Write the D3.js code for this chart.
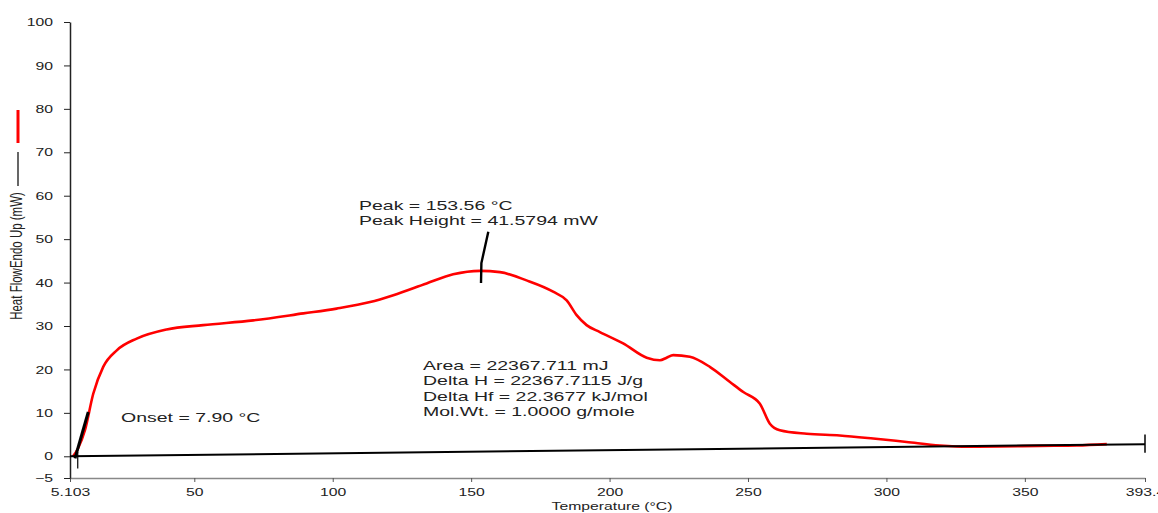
<!DOCTYPE html>
<html>
<head>
<meta charset="utf-8">
<script src="https://cdn.jsdelivr.net/npm/d3@7"></script>
<style>
  body { margin: 0; background: #fff; }
  svg { display: block; }
  text { font-family: "Liberation Sans", Arial, sans-serif; fill: #222; }
</style>
</head>
<body>
<svg id="chart"></svg>
<script>
var width = 1158, height = 513;
var margin = {top: 22, right: 13, bottom: 35, left: 70};
var stretch = 1.5; // the original picture is stretched sideways

// red curve: temperature (°C) and heat flow (mW)
var temps = [6.2, 8.0, 10.5, 13.5, 17.1, 22.0, 29.2, 40.0, 53.2, 71.3, 89.4, 101.4, 113.5,
  121.9, 133.9, 143.5, 153.2, 160.4, 170.0, 179.6, 184.5, 188.1, 191.7, 196.5, 204.9,
  213.4, 218.2, 220.6, 223.0, 229.0, 236.2, 243.5, 248.3, 254.3, 257.9, 261.5, 271.2,
  283.1, 295.2, 307.3, 319.3, 329.4, 340.9, 355.4, 368.8, 379.6];
var heatFlow = [0.0, 1.8, 6.0, 14.4, 20.6, 24.4, 27.1, 29.2, 30.2, 31.3, 32.9, 34.0, 35.5,
  37.1, 39.8, 41.9, 42.7, 42.4, 40.5, 37.9, 35.9, 32.5, 30.2, 28.6, 26.0,
  22.7, 22.1, 22.7, 23.3, 22.9, 20.6, 17.1, 14.8, 12.1, 7.5, 6.0, 5.2,
  4.8, 4.1, 3.3, 2.5, 2.2, 2.25, 2.4, 2.5, 2.8];

// black baseline
var baseT = [5.103, 393.4];
var baseV = [0.0, 2.8];

// onset tangent and peak marker
var onsetT = [6.9, 11.7];
var onsetV = [-0.5, 10.2];
var onsetTemp = 7.90;
var peakT = [153.56, 153.7, 156.2];
var peakV = [39.9, 44.5, 51.7];

var xTicks = [5.103, 50, 100, 150, 200, 250, 300, 350, 393.4];
var xTickLabels = ["5.103", "50", "100", "150", "200", "250", "300", "350", "393.4"];
var yTicks = [100, 90, 80, 70, 60, 50, 40, 30, 20, 10, 0, -5];

var peakText = ["Peak = 153.56 °C", "Peak Height = 41.5794 mW"];
var areaText = ["Area = 22367.711 mJ", "Delta H = 22367.7115 J/g",
  "Delta Hf = 22.3677 kJ/mol", "Mol.Wt. = 1.0000 g/mole"];
var onsetText = "Onset = 7.90 °C";

var svg = d3.select("#chart").attr("width", width).attr("height", height);

var x = d3.scaleLinear().domain([5.103, 393.4]).range([margin.left, 1145]);
var y = d3.scaleLinear().domain([-5, 100]).range([478, margin.top]);

// x axis
var xAxis = svg.append("g")
  .attr("transform", "translate(0,478)")
  .call(d3.axisBottom(x).tickValues(xTicks)
    .tickFormat(function(d, i) { return xTickLabels[i]; })
    .tickSize(4).tickSizeOuter(0));
xAxis.select(".domain").attr("stroke", "#888").attr("stroke-width", 1.5);
xAxis.selectAll(".tick line").attr("stroke", "#555");
xAxis.selectAll(".tick text")
  .attr("y", 0).attr("dy", 0)
  .attr("transform", "translate(0,18) scale(" + stretch + ",1)")
  .style("font-size", "10.5px").style("font-family", "Liberation Sans, Arial");

// y axis
var yAxis = svg.append("g")
  .attr("transform", "translate(" + margin.left + ",0)")
  .call(d3.axisLeft(y).tickValues(yTicks).tickSize(6).tickSizeOuter(0));
yAxis.select(".domain").attr("stroke", "#222").attr("stroke-width", 1.5);
yAxis.selectAll(".tick line").attr("stroke", "#222");
yAxis.selectAll(".tick text")
  .attr("x", 0).attr("dy", "0.35em")
  .attr("transform", "translate(-17,0) scale(" + stretch + ",1)")
  .style("font-size", "10.5px").style("font-family", "Liberation Sans, Arial");

// axis titles
svg.append("text")
  .attr("transform", "translate(612,510) scale(" + stretch + ",1)")
  .attr("text-anchor", "middle")
  .style("font-size", "10.5px")
  .text("Temperature (°C)");

svg.append("text")
  .attr("transform", "translate(22,256) rotate(-90) scale(1," + stretch + ")")
  .attr("text-anchor", "middle")
  .style("font-size", "11.5px")
  .text("Heat FlowEndo Up (mW)");

// legend marks beside the y title
svg.append("line").attr("x1", 18).attr("x2", 18).attr("y1", 110).attr("y2", 143)
  .attr("stroke", "red").attr("stroke-width", 3);
svg.append("line").attr("x1", 18).attr("x2", 18).attr("y1", 152).attr("y2", 186)
  .attr("stroke", "#000").attr("stroke-width", 1.2);

var line = d3.line()
  .x(function(d) { return x(d[0]); })
  .y(function(d) { return y(d[1]); });

// red heat flow curve
svg.append("path")
  .datum(temps.map(function(t, i) { return [t, heatFlow[i]]; }))
  .attr("fill", "none").attr("stroke", "#ff0000").attr("stroke-width", 2.6)
  .attr("stroke-linejoin", "round")
  .attr("d", line.curve(d3.curveMonotoneX));
line.curve(d3.curveLinear);

// baseline drawn on top of the red tail
svg.append("path")
  .datum(baseT.map(function(t, i) { return [t, baseV[i]]; }))
  .attr("fill", "none").attr("stroke", "#000").attr("stroke-width", 2)
  .attr("d", line);

// onset tangent + tick
svg.append("path")
  .datum(onsetT.map(function(t, i) { return [t, onsetV[i]]; }))
  .attr("fill", "none").attr("stroke", "#000").attr("stroke-width", 3)
  .attr("d", line);
svg.append("line")
  .attr("x1", x(onsetTemp)).attr("x2", x(onsetTemp))
  .attr("y1", y(1.0)).attr("y2", y(-2.8))
  .attr("stroke", "#000").attr("stroke-width", 1.2);

// end marker
svg.append("line")
  .attr("x1", x(393.4)).attr("x2", x(393.4))
  .attr("y1", y(5.0)).attr("y2", y(0.8))
  .attr("stroke", "#000").attr("stroke-width", 1.5);

// peak marker
svg.append("path")
  .datum(peakT.map(function(t, i) { return [t, peakV[i]]; }))
  .attr("fill", "none").attr("stroke", "#000").attr("stroke-width", 2.4)
  .attr("d", line);

// annotations
function note(txt, px, py) {
  svg.append("text")
    .attr("transform", "translate(" + px + "," + py + ") scale(" + stretch + ",1)")
    .style("font-size", "13px")
    .text(txt);
}
peakText.forEach(function(t, i) { note(t, 359, 210 + i * 15); });
areaText.forEach(function(t, i) { note(t, 423, 369.5 + i * 15.6); });
note(onsetText, 121, 422);
</script>
</body>
</html>
